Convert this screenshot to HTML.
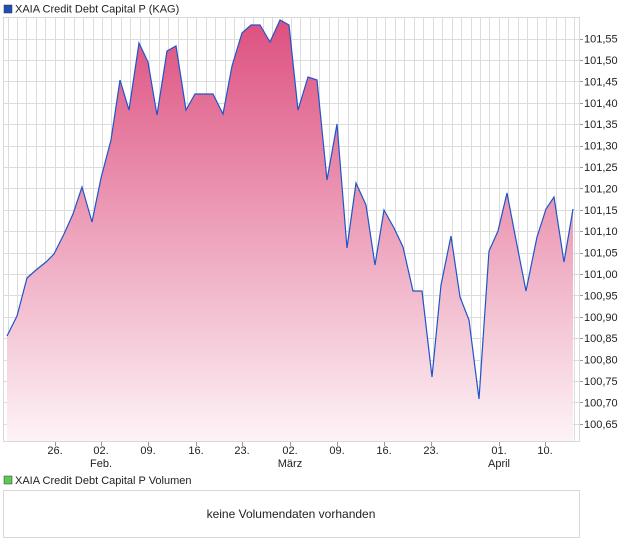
<!DOCTYPE html>
<html><head><meta charset="utf-8"><style>
body{margin:0;background:#fff;width:620px;height:546px;overflow:hidden;font-family:"Liberation Sans",sans-serif;}
</style></head><body>
<svg width="620" height="546" xmlns="http://www.w3.org/2000/svg" font-family="Liberation Sans, sans-serif">
<defs><linearGradient id="g" x1="0" y1="0" x2="0" y2="1">
<stop offset="0" stop-color="#dd5080"/><stop offset="1" stop-color="#fdf3f6"/></linearGradient></defs>
<rect x="4" y="5" width="8" height="8" fill="#1f4fb5" stroke="#333" stroke-width="0.5"/>
<text x="15" y="12.5" font-size="11" fill="#222">XAIA Credit Debt Capital P (KAG)</text>
<g stroke="#dcdcdc" stroke-width="1" id="grid"></g>
<rect x="3.5" y="17.5" width="576" height="424" fill="none" stroke="#d8d8d8"/>
<polygon id="area" fill="url(#g)"/>
<polyline id="line" fill="none" stroke="#1f55c8" stroke-width="1.2"/>
<g id="ylab" font-size="11" fill="#222"></g>
<g id="xlab" font-size="11" fill="#222" text-anchor="middle"></g>
<rect x="4" y="476" width="8" height="8" fill="#5cc85c" stroke="#333" stroke-width="0.5"/>
<text x="15" y="484" font-size="11" fill="#222">XAIA Credit Debt Capital P Volumen</text>
<rect x="3.5" y="490.5" width="576" height="47" fill="none" stroke="#d8d8d8"/>
<text x="291" y="518" font-size="12" fill="#222" text-anchor="middle">keine Volumendaten vorhanden</text>
</svg>
<script>
const NS="http://www.w3.org/2000/svg";
const grid=document.getElementById('grid');
function ln(x1,y1,x2,y2,p,c){const l=document.createElementNS(NS,'line');l.setAttribute('x1',x1);l.setAttribute('y1',y1);l.setAttribute('x2',x2);l.setAttribute('y2',y2);if(c)l.setAttribute('stroke',c);p.appendChild(l);}
for(let x=7.5;x<579;x+=9.45)ln(Math.round(x)+.5,18,Math.round(x)+.5,442,grid);
const yl=document.getElementById('ylab');
for(let k=0;k<=18;k++){const v=101.55-k*0.05;const y=38.6+k*21.4;ln(4,Math.round(y)+.5,579,Math.round(y)+.5,grid);
 ln(579,Math.round(y)+.5,583,Math.round(y)+.5,grid,'#999');
 const t=document.createElementNS(NS,'text');t.setAttribute('x',584);t.setAttribute('y',y+4);t.textContent=v.toFixed(2).replace('.',',');yl.appendChild(t);}
const pts=[[7,336],[17,316],[27,278],[36,270],[46,262],[54,254],[64,234],[73,214],[82,187],[92,222],[101,178],[111,140],[120,80],[129,110],[139,43],[148,62],[157,115],[167,51],[176,46],[186,110],[195,94],[204,94],[213,94],[223,114],[232,66],[242,33],[251,25],[260,25],[270,42],[280,20],[289,25],[298,110],[308,77],[317,80],[327,180],[337,124],[347,248],[356,183],[366,205],[375,265],[384,210],[394,228],[403,247],[413,291],[422,291],[432,377],[441,285],[451,236],[460,297],[469,320],[479,399],[489,251],[498,231],[507,193],[516,240],[526,291],[537,237],[546,209],[554,197],[564,262],[573,209]];
const s=pts.map(p=>p.join(',')).join(' ');
document.getElementById('line').setAttribute('points',s);
document.getElementById('area').setAttribute('points',s+' 573,441 7,441');
const xl=document.getElementById('xlab');
[[55,'26.'],[101,'02.','Feb.'],[148,'09.'],[196,'16.'],[242,'23.'],[290,'02.','März'],[337,'09.'],[384,'16.'],[431,'23.'],[499,'01.','April'],[545,'10.']].forEach(a=>{
 const t=document.createElementNS(NS,'text');t.setAttribute('x',a[0]);t.setAttribute('y',454);t.textContent=a[1];xl.appendChild(t);
 if(a[2]){const u=document.createElementNS(NS,'text');u.setAttribute('x',a[0]);u.setAttribute('y',467);u.textContent=a[2];xl.appendChild(u);}
 ln(a[0]+.5,442,a[0]+.5,446,grid,'#999');});
</script>
</body></html>
